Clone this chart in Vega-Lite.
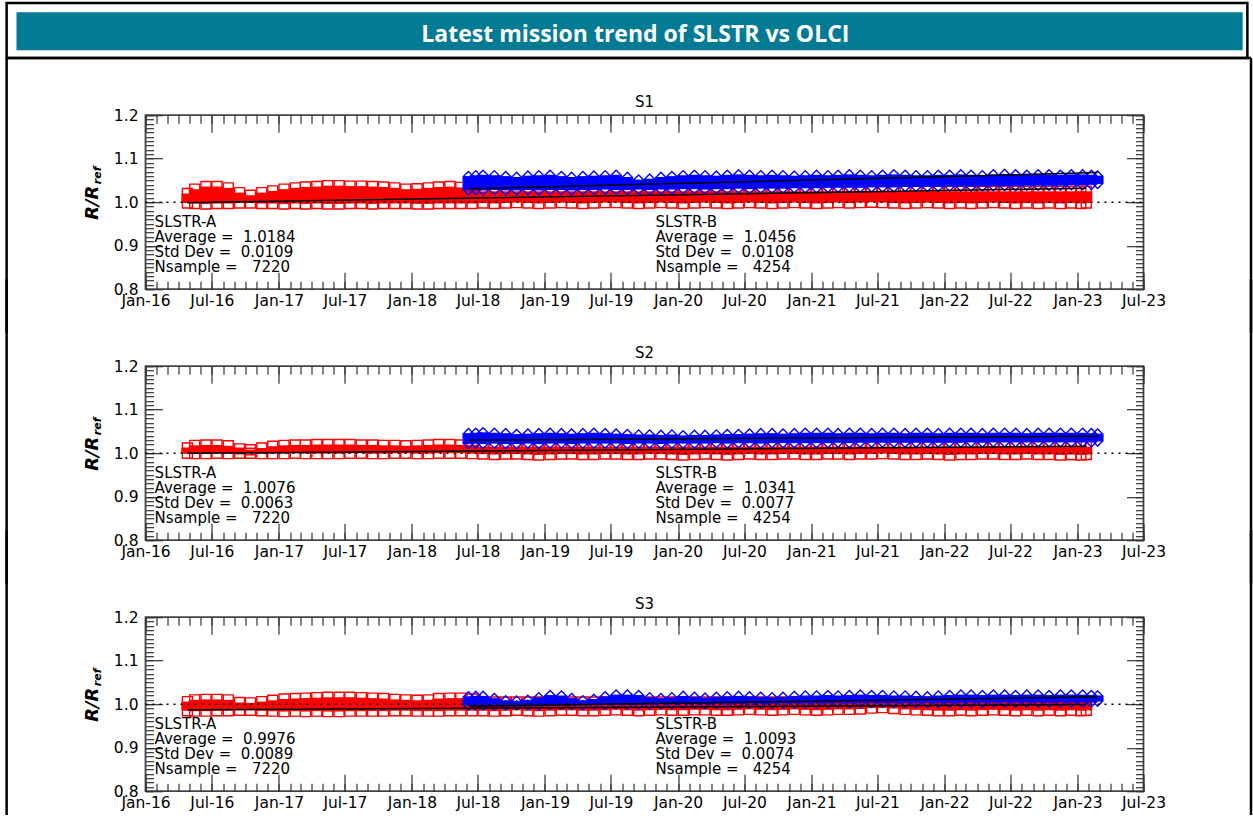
{
"$schema":"https://vega.github.io/schema/vega-lite/v6.json",
"padding":{"left":3.5,"top":0.2,"right":0,"bottom":0},
"background":"white",
"bounds":"flush",
"spacing":77,
"config":{
 "view":{"stroke":"#444","strokeWidth":1.8},
 "axis":{"grid":false,"domain":false,"tickColor":"#333","tickWidth":1.2,"labelFont":"DejaVu Sans","labelFontSize":15.5,"labelColor":"black","labelFlush":false,"labelOverlap":false},
 "font":"DejaVu Sans"
},
"datasets":{
"A":[
{"t":"2016-04-25","l1":0.998,"h1":1.020,"l2":1.000,"h2":1.012,"l3":0.985,"h3":1.006},
{"t":"2016-05-15","l1":0.997,"h1":1.030,"l2":0.999,"h2":1.018,"l3":0.984,"h3":1.010},
{"t":"2016-06-15","l1":0.996,"h1":1.036,"l2":0.999,"h2":1.019,"l3":0.984,"h3":1.011},
{"t":"2016-07-15","l1":0.997,"h1":1.036,"l2":1.000,"h2":1.019,"l3":0.985,"h3":1.011},
{"t":"2016-08-15","l1":0.997,"h1":1.033,"l2":0.999,"h2":1.017,"l3":0.985,"h3":1.010},
{"t":"2016-09-15","l1":0.998,"h1":1.022,"l2":1.000,"h2":1.010,"l3":0.986,"h3":1.004},
{"t":"2016-10-15","l1":0.998,"h1":1.016,"l2":1.000,"h2":1.008,"l3":0.986,"h3":1.003},
{"t":"2016-11-15","l1":0.997,"h1":1.022,"l2":0.999,"h2":1.012,"l3":0.985,"h3":1.006},
{"t":"2016-12-15","l1":0.997,"h1":1.026,"l2":0.999,"h2":1.016,"l3":0.984,"h3":1.009},
{"t":"2017-01-15","l1":0.996,"h1":1.030,"l2":0.999,"h2":1.018,"l3":0.983,"h3":1.012},
{"t":"2017-02-15","l1":0.997,"h1":1.033,"l2":1.000,"h2":1.019,"l3":0.984,"h3":1.013},
{"t":"2017-03-15","l1":0.996,"h1":1.035,"l2":0.999,"h2":1.019,"l3":0.983,"h3":1.014},
{"t":"2017-04-15","l1":0.997,"h1":1.036,"l2":0.999,"h2":1.020,"l3":0.984,"h3":1.015},
{"t":"2017-05-15","l1":0.996,"h1":1.038,"l2":0.999,"h2":1.020,"l3":0.983,"h3":1.016},
{"t":"2017-06-15","l1":0.996,"h1":1.038,"l2":0.999,"h2":1.020,"l3":0.983,"h3":1.016},
{"t":"2017-07-15","l1":0.997,"h1":1.037,"l2":1.000,"h2":1.020,"l3":0.984,"h3":1.016},
{"t":"2017-08-15","l1":0.997,"h1":1.037,"l2":1.000,"h2":1.019,"l3":0.984,"h3":1.015},
{"t":"2017-09-15","l1":0.996,"h1":1.036,"l2":0.999,"h2":1.019,"l3":0.984,"h3":1.014},
{"t":"2017-10-15","l1":0.997,"h1":1.035,"l2":0.999,"h2":1.018,"l3":0.984,"h3":1.013},
{"t":"2017-11-15","l1":0.997,"h1":1.033,"l2":1.000,"h2":1.018,"l3":0.985,"h3":1.011},
{"t":"2017-12-15","l1":0.997,"h1":1.030,"l2":1.000,"h2":1.017,"l3":0.985,"h3":1.010},
{"t":"2018-01-15","l1":0.996,"h1":1.031,"l2":0.999,"h2":1.018,"l3":0.984,"h3":1.009},
{"t":"2018-02-15","l1":0.996,"h1":1.033,"l2":0.999,"h2":1.019,"l3":0.984,"h3":1.010},
{"t":"2018-03-15","l1":0.997,"h1":1.035,"l2":1.000,"h2":1.020,"l3":0.984,"h3":1.013},
{"t":"2018-04-15","l1":0.997,"h1":1.036,"l2":1.000,"h2":1.020,"l3":0.985,"h3":1.014},
{"t":"2018-05-15","l1":0.997,"h1":1.034,"l2":1.000,"h2":1.019,"l3":0.985,"h3":1.014},
{"t":"2018-06-15","l1":0.997,"h1":1.032,"l2":0.999,"h2":1.019,"l3":0.985,"h3":1.012},
{"t":"2018-07-15","l1":0.998,"h1":1.025,"l2":0.998,"h2":1.015,"l3":0.985,"h3":1.005},
{"t":"2018-08-15","l1":0.997,"h1":1.025,"l2":0.997,"h2":1.015,"l3":0.984,"h3":1.005},
{"t":"2018-09-15","l1":0.998,"h1":1.025,"l2":0.998,"h2":1.015,"l3":0.985,"h3":1.005},
{"t":"2018-10-15","l1":0.999,"h1":1.025,"l2":0.998,"h2":1.015,"l3":0.986,"h3":1.005},
{"t":"2018-11-15","l1":0.998,"h1":1.025,"l2":0.997,"h2":1.015,"l3":0.985,"h3":1.005},
{"t":"2018-12-15","l1":0.997,"h1":1.025,"l2":0.996,"h2":1.015,"l3":0.984,"h3":1.005},
{"t":"2019-01-15","l1":0.998,"h1":1.025,"l2":0.997,"h2":1.015,"l3":0.985,"h3":1.005},
{"t":"2019-02-15","l1":0.999,"h1":1.025,"l2":0.998,"h2":1.015,"l3":0.986,"h3":1.005},
{"t":"2019-03-15","l1":0.998,"h1":1.025,"l2":0.998,"h2":1.015,"l3":0.986,"h3":1.005},
{"t":"2019-04-15","l1":0.997,"h1":1.025,"l2":0.997,"h2":1.015,"l3":0.985,"h3":1.005},
{"t":"2019-05-15","l1":0.998,"h1":1.025,"l2":0.997,"h2":1.015,"l3":0.985,"h3":1.005},
{"t":"2019-06-15","l1":0.999,"h1":1.025,"l2":0.998,"h2":1.015,"l3":0.986,"h3":1.005},
{"t":"2019-07-15","l1":0.999,"h1":1.025,"l2":0.998,"h2":1.015,"l3":0.987,"h3":1.005},
{"t":"2019-08-15","l1":0.998,"h1":1.025,"l2":0.997,"h2":1.015,"l3":0.986,"h3":1.005},
{"t":"2019-09-15","l1":0.997,"h1":1.025,"l2":0.997,"h2":1.015,"l3":0.985,"h3":1.005},
{"t":"2019-10-15","l1":0.998,"h1":1.025,"l2":0.998,"h2":1.015,"l3":0.986,"h3":1.005},
{"t":"2019-11-15","l1":0.999,"h1":1.025,"l2":0.998,"h2":1.015,"l3":0.987,"h3":1.005},
{"t":"2019-12-15","l1":0.998,"h1":1.025,"l2":0.997,"h2":1.015,"l3":0.986,"h3":1.005},
{"t":"2020-01-15","l1":0.997,"h1":1.025,"l2":0.996,"h2":1.015,"l3":0.986,"h3":1.005},
{"t":"2020-02-15","l1":0.998,"h1":1.025,"l2":0.997,"h2":1.015,"l3":0.987,"h3":1.005},
{"t":"2020-03-15","l1":0.999,"h1":1.025,"l2":0.998,"h2":1.015,"l3":0.987,"h3":1.005},
{"t":"2020-04-15","l1":0.998,"h1":1.025,"l2":0.997,"h2":1.015,"l3":0.986,"h3":1.005},
{"t":"2020-05-15","l1":0.997,"h1":1.025,"l2":0.996,"h2":1.015,"l3":0.986,"h3":1.005},
{"t":"2020-06-15","l1":0.998,"h1":1.025,"l2":0.997,"h2":1.015,"l3":0.987,"h3":1.005},
{"t":"2020-07-15","l1":0.999,"h1":1.025,"l2":0.998,"h2":1.015,"l3":0.988,"h3":1.005},
{"t":"2020-08-15","l1":0.998,"h1":1.025,"l2":0.997,"h2":1.015,"l3":0.987,"h3":1.005},
{"t":"2020-09-15","l1":0.997,"h1":1.025,"l2":0.997,"h2":1.015,"l3":0.986,"h3":1.005},
{"t":"2020-10-15","l1":0.998,"h1":1.025,"l2":0.998,"h2":1.015,"l3":0.987,"h3":1.005},
{"t":"2020-11-15","l1":0.999,"h1":1.025,"l2":0.998,"h2":1.015,"l3":0.988,"h3":1.005},
{"t":"2020-12-15","l1":0.998,"h1":1.025,"l2":0.997,"h2":1.015,"l3":0.987,"h3":1.005},
{"t":"2021-01-15","l1":0.997,"h1":1.025,"l2":0.997,"h2":1.015,"l3":0.986,"h3":1.005},
{"t":"2021-02-15","l1":0.998,"h1":1.025,"l2":0.998,"h2":1.015,"l3":0.987,"h3":1.005},
{"t":"2021-03-15","l1":0.999,"h1":1.025,"l2":0.998,"h2":1.015,"l3":0.988,"h3":1.005},
{"t":"2021-04-15","l1":0.998,"h1":1.025,"l2":0.997,"h2":1.015,"l3":0.988,"h3":1.005},
{"t":"2021-05-15","l1":0.999,"h1":1.025,"l2":0.998,"h2":1.015,"l3":0.989,"h3":1.005},
{"t":"2021-06-15","l1":1.000,"h1":1.025,"l2":0.998,"h2":1.015,"l3":0.991,"h3":1.005},
{"t":"2021-07-15","l1":0.999,"h1":1.025,"l2":0.999,"h2":1.015,"l3":0.992,"h3":1.005},
{"t":"2021-08-15","l1":0.998,"h1":1.025,"l2":0.998,"h2":1.015,"l3":0.990,"h3":1.005},
{"t":"2021-09-15","l1":0.997,"h1":1.025,"l2":0.997,"h2":1.015,"l3":0.988,"h3":1.005},
{"t":"2021-10-15","l1":0.998,"h1":1.025,"l2":0.997,"h2":1.015,"l3":0.987,"h3":1.005},
{"t":"2021-11-15","l1":0.999,"h1":1.025,"l2":0.998,"h2":1.015,"l3":0.986,"h3":1.005},
{"t":"2021-12-15","l1":0.998,"h1":1.025,"l2":0.997,"h2":1.015,"l3":0.985,"h3":1.005},
{"t":"2022-01-15","l1":0.997,"h1":1.025,"l2":0.996,"h2":1.015,"l3":0.985,"h3":1.005},
{"t":"2022-02-15","l1":0.998,"h1":1.025,"l2":0.997,"h2":1.015,"l3":0.986,"h3":1.005},
{"t":"2022-03-15","l1":0.997,"h1":1.025,"l2":0.997,"h2":1.015,"l3":0.985,"h3":1.005},
{"t":"2022-04-15","l1":0.998,"h1":1.025,"l2":0.998,"h2":1.015,"l3":0.986,"h3":1.005},
{"t":"2022-05-15","l1":0.999,"h1":1.025,"l2":0.998,"h2":1.015,"l3":0.987,"h3":1.005},
{"t":"2022-06-15","l1":0.998,"h1":1.025,"l2":0.997,"h2":1.015,"l3":0.986,"h3":1.005},
{"t":"2022-07-15","l1":0.997,"h1":1.025,"l2":0.997,"h2":1.015,"l3":0.985,"h3":1.005},
{"t":"2022-08-15","l1":0.998,"h1":1.025,"l2":0.998,"h2":1.015,"l3":0.986,"h3":1.005},
{"t":"2022-09-15","l1":0.997,"h1":1.025,"l2":0.997,"h2":1.015,"l3":0.985,"h3":1.005},
{"t":"2022-10-15","l1":0.998,"h1":1.025,"l2":0.997,"h2":1.015,"l3":0.986,"h3":1.005},
{"t":"2022-11-15","l1":0.997,"h1":1.025,"l2":0.996,"h2":1.015,"l3":0.985,"h3":1.005},
{"t":"2022-12-15","l1":0.998,"h1":1.025,"l2":0.997,"h2":1.015,"l3":0.986,"h3":1.005},
{"t":"2023-01-10","l1":0.997,"h1":1.025,"l2":0.996,"h2":1.015,"l3":0.985,"h3":1.005},
{"t":"2023-01-25","l1":0.998,"h1":1.025,"l2":0.997,"h2":1.015,"l3":0.986,"h3":1.005}
],
"B":[
{"t":"2018-06-05","l1":1.027,"h1":1.060,"l2":1.021,"h2":1.046,"l3":0.997,"h3":1.018},
{"t":"2018-06-25","l1":1.028,"h1":1.062,"l2":1.022,"h2":1.047,"l3":0.998,"h3":1.019},
{"t":"2018-07-15","l1":1.027,"h1":1.063,"l2":1.021,"h2":1.048,"l3":0.997,"h3":1.019},
{"t":"2018-08-15","l1":1.028,"h1":1.062,"l2":1.022,"h2":1.047,"l3":0.998,"h3":1.014},
{"t":"2018-09-15","l1":1.027,"h1":1.060,"l2":1.021,"h2":1.046,"l3":0.997,"h3":1.009},
{"t":"2018-10-15","l1":1.027,"h1":1.058,"l2":1.021,"h2":1.044,"l3":0.997,"h3":1.008},
{"t":"2018-11-15","l1":1.028,"h1":1.061,"l2":1.022,"h2":1.045,"l3":0.998,"h3":1.010},
{"t":"2018-12-15","l1":1.027,"h1":1.062,"l2":1.021,"h2":1.046,"l3":0.998,"h3":1.016},
{"t":"2019-01-15","l1":1.028,"h1":1.063,"l2":1.022,"h2":1.047,"l3":0.999,"h3":1.021},
{"t":"2019-02-15","l1":1.028,"h1":1.060,"l2":1.022,"h2":1.046,"l3":0.999,"h3":1.020},
{"t":"2019-03-15","l1":1.027,"h1":1.058,"l2":1.021,"h2":1.045,"l3":0.998,"h3":1.014},
{"t":"2019-04-15","l1":1.028,"h1":1.060,"l2":1.022,"h2":1.046,"l3":0.998,"h3":1.009},
{"t":"2019-05-15","l1":1.028,"h1":1.061,"l2":1.022,"h2":1.047,"l3":0.999,"h3":1.012},
{"t":"2019-06-15","l1":1.029,"h1":1.062,"l2":1.022,"h2":1.046,"l3":0.999,"h3":1.018},
{"t":"2019-07-15","l1":1.028,"h1":1.063,"l2":1.022,"h2":1.045,"l3":1.000,"h3":1.022},
{"t":"2019-08-15","l1":1.028,"h1":1.058,"l2":1.021,"h2":1.044,"l3":0.999,"h3":1.022},
{"t":"2019-09-15","l1":1.029,"h1":1.052,"l2":1.022,"h2":1.043,"l3":0.999,"h3":1.021},
{"t":"2019-10-15","l1":1.028,"h1":1.054,"l2":1.022,"h2":1.043,"l3":1.000,"h3":1.016},
{"t":"2019-11-15","l1":1.029,"h1":1.058,"l2":1.021,"h2":1.042,"l3":1.000,"h3":1.014},
{"t":"2019-12-15","l1":1.029,"h1":1.060,"l2":1.022,"h2":1.043,"l3":1.000,"h3":1.016},
{"t":"2020-01-15","l1":1.030,"h1":1.062,"l2":1.022,"h2":1.041,"l3":1.001,"h3":1.019},
{"t":"2020-02-15","l1":1.030,"h1":1.063,"l2":1.022,"h2":1.042,"l3":1.001,"h3":1.017},
{"t":"2020-03-15","l1":1.029,"h1":1.062,"l2":1.022,"h2":1.042,"l3":1.000,"h3":1.015},
{"t":"2020-04-15","l1":1.030,"h1":1.061,"l2":1.023,"h2":1.043,"l3":1.001,"h3":1.017},
{"t":"2020-05-15","l1":1.030,"h1":1.063,"l2":1.022,"h2":1.044,"l3":1.001,"h3":1.018},
{"t":"2020-06-15","l1":1.031,"h1":1.064,"l2":1.023,"h2":1.044,"l3":1.001,"h3":1.019},
{"t":"2020-07-15","l1":1.030,"h1":1.063,"l2":1.023,"h2":1.045,"l3":1.002,"h3":1.018},
{"t":"2020-08-15","l1":1.031,"h1":1.062,"l2":1.022,"h2":1.046,"l3":1.001,"h3":1.017},
{"t":"2020-09-15","l1":1.031,"h1":1.063,"l2":1.023,"h2":1.046,"l3":1.001,"h3":1.016},
{"t":"2020-10-15","l1":1.031,"h1":1.062,"l2":1.023,"h2":1.045,"l3":1.002,"h3":1.017},
{"t":"2020-11-15","l1":1.032,"h1":1.061,"l2":1.023,"h2":1.046,"l3":1.002,"h3":1.019},
{"t":"2020-12-15","l1":1.032,"h1":1.062,"l2":1.023,"h2":1.047,"l3":1.002,"h3":1.020},
{"t":"2021-01-15","l1":1.032,"h1":1.063,"l2":1.023,"h2":1.047,"l3":1.002,"h3":1.020},
{"t":"2021-02-15","l1":1.033,"h1":1.062,"l2":1.023,"h2":1.047,"l3":1.002,"h3":1.021},
{"t":"2021-03-15","l1":1.033,"h1":1.063,"l2":1.024,"h2":1.046,"l3":1.003,"h3":1.020},
{"t":"2021-04-15","l1":1.033,"h1":1.064,"l2":1.023,"h2":1.047,"l3":1.002,"h3":1.021},
{"t":"2021-05-15","l1":1.033,"h1":1.063,"l2":1.024,"h2":1.047,"l3":1.003,"h3":1.022},
{"t":"2021-06-15","l1":1.034,"h1":1.062,"l2":1.024,"h2":1.046,"l3":1.003,"h3":1.021},
{"t":"2021-07-15","l1":1.034,"h1":1.063,"l2":1.024,"h2":1.047,"l3":1.003,"h3":1.021},
{"t":"2021-08-15","l1":1.034,"h1":1.064,"l2":1.024,"h2":1.047,"l3":1.003,"h3":1.020},
{"t":"2021-09-15","l1":1.035,"h1":1.063,"l2":1.024,"h2":1.046,"l3":1.003,"h3":1.020},
{"t":"2021-10-15","l1":1.035,"h1":1.062,"l2":1.024,"h2":1.047,"l3":1.003,"h3":1.019},
{"t":"2021-11-15","l1":1.035,"h1":1.062,"l2":1.024,"h2":1.047,"l3":1.003,"h3":1.018},
{"t":"2021-12-15","l1":1.035,"h1":1.063,"l2":1.024,"h2":1.046,"l3":1.003,"h3":1.020},
{"t":"2022-01-15","l1":1.036,"h1":1.063,"l2":1.024,"h2":1.047,"l3":1.003,"h3":1.021},
{"t":"2022-02-15","l1":1.036,"h1":1.064,"l2":1.024,"h2":1.047,"l3":1.003,"h3":1.022},
{"t":"2022-03-15","l1":1.036,"h1":1.063,"l2":1.025,"h2":1.047,"l3":1.004,"h3":1.022},
{"t":"2022-04-15","l1":1.036,"h1":1.062,"l2":1.024,"h2":1.046,"l3":1.003,"h3":1.021},
{"t":"2022-05-15","l1":1.037,"h1":1.064,"l2":1.025,"h2":1.047,"l3":1.004,"h3":1.022},
{"t":"2022-06-15","l1":1.037,"h1":1.065,"l2":1.025,"h2":1.047,"l3":1.004,"h3":1.022},
{"t":"2022-07-15","l1":1.037,"h1":1.064,"l2":1.025,"h2":1.047,"l3":1.004,"h3":1.021},
{"t":"2022-08-15","l1":1.038,"h1":1.063,"l2":1.025,"h2":1.046,"l3":1.004,"h3":1.022},
{"t":"2022-09-15","l1":1.038,"h1":1.064,"l2":1.025,"h2":1.047,"l3":1.004,"h3":1.022},
{"t":"2022-10-15","l1":1.038,"h1":1.064,"l2":1.025,"h2":1.047,"l3":1.004,"h3":1.021},
{"t":"2022-11-15","l1":1.038,"h1":1.063,"l2":1.025,"h2":1.047,"l3":1.004,"h3":1.022},
{"t":"2022-12-15","l1":1.039,"h1":1.064,"l2":1.025,"h2":1.047,"l3":1.004,"h3":1.022},
{"t":"2023-01-15","l1":1.039,"h1":1.064,"l2":1.025,"h2":1.047,"l3":1.004,"h3":1.022},
{"t":"2023-02-08","l1":1.040,"h1":1.063,"l2":1.025,"h2":1.046,"l3":1.004,"h3":1.021},
{"t":"2023-02-25","l1":1.042,"h1":1.061,"l2":1.027,"h2":1.045,"l3":1.006,"h3":1.020}
],
"T":[
{"s":"A","t":"2016-04-25","v1":0.999,"v2":1.000,"v3":0.987},
{"s":"A","t":"2023-01-25","v1":1.032,"v2":1.016,"v3":0.999},
{"s":"B","t":"2018-06-05","v1":1.031,"v2":1.030,"v3":0.995},
{"s":"B","t":"2023-02-25","v1":1.068,"v2":1.039,"v3":1.017}
]
},
"vconcat":[
{
"width":998,"height":174,
"layer":[
{"data":{"values":[{}]},"mark":{"type":"rule","color":"black","strokeWidth":2.5},"encoding":{"x":{"datum":{"year":2014,"month":12,"date":16,"utc":true},"type":"temporal","axis":null},"y":{"datum":1.3315,"type":"quantitative","axis":null},"y2":{"datum":0.70}}},
{"data":{"values":[{}]},"mark":{"type":"rule","color":"black","strokeWidth":2.5},"encoding":{"x":{"datum":{"year":2024,"month":4,"date":21,"utc":true},"type":"temporal","axis":null},"y":{"datum":1.3315,"type":"quantitative","axis":null},"y2":{"datum":0.70}}},
{"data":{"values":[{}]},"mark":{"type":"rect","fill":"white","fillOpacity":0,"stroke":"black","strokeWidth":2.5},"encoding":{"x":{"datum":{"year":2014,"month":12,"date":16,"utc":true},"type":"temporal","axis":null},"x2":{"datum":{"year":2024,"month":4,"date":11,"utc":true}},"y":{"datum":1.4582,"type":"quantitative","axis":null},"y2":{"datum":1.3315}}},
{"data":{"values":[{}]},"mark":{"type":"rule","color":"black","strokeWidth":2.5},"encoding":{"x":{"datum":{"year":2014,"month":12,"date":16,"utc":true},"type":"temporal","axis":null},"x2":{"datum":{"year":2024,"month":4,"date":21,"utc":true}},"y":{"datum":1.3315,"type":"quantitative","axis":null}}},
{"data":{"values":[{}]},"mark":{"type":"rect","fill":"#017a93","strokeWidth":0},"encoding":{"x":{"datum":{"year":2015,"month":1,"date":12,"utc":true},"type":"temporal","axis":null},"x2":{"datum":{"year":2024,"month":3,"date":29,"utc":true}},"y":{"datum":1.4368,"type":"quantitative","axis":null},"y2":{"datum":1.3494}}},
{"data":{"values":[{}]},"mark":{"type":"text","text":"Latest mission trend of SLSTR vs OLCI","font":"Open Sans","fontWeight":"bold","fontSize":23,"color":"white","align":"center","baseline":"alphabetic"},"encoding":{"x":{"datum":{"year":2019,"month":9,"date":6,"utc":true},"type":"temporal","axis":null},"y":{"datum":1.3685,"type":"quantitative","axis":null}}},
{"data":{"values":[{}]},"mark":{"type":"text","text":"S1","font":"DejaVu Sans","fontSize":15,"align":"center","baseline":"alphabetic","color":"black"},"encoding":{"x":{"datum":{"year":2019,"month":10,"date":1,"utc":true},"type":"temporal","axis":null},"y":{"datum":1.2195,"type":"quantitative","axis":null}}},
{"data":{"name":"A"},"mark":{"type":"rule","color":"#ff0000","strokeWidth":12},"encoding":{"x":{"field":"t","type":"temporal","scale":{"type":"utc","domain":[{"year":2016,"month":1,"date":1,"utc":true},{"year":2023,"month":7,"date":1,"utc":true}],"nice":false},"axis":{"orient":"bottom","tickCount":{"interval":"month","step":6},"tickSize":-17,"labelPadding":21.5,"format":"%b-%y","title":null}},"y":{"field":"l1","type":"quantitative","scale":{"domain":[0.8,1.2],"nice":false,"zero":false},"axis":{"orient":"left","values":[0.8,0.9,1.0,1.1,1.2],"tickSize":-17,"labelPadding":24.5,"format":".1f","title":"R/R","titleX":-48,"titleY":87,"titleAngle":270,"titleBaseline":"alphabetic","titleAlign":"center","titleFont":"DejaVu Sans","titleFontSize":18,"titleFontWeight":"bold","titleFontStyle":"italic","titleColor":"black"}},"y2":{"field":"h1"}}},
{"data":{"name":"A"},"transform":[{"fold":["l1","h1"]}],"mark":{"type":"point","shape":"square","filled":false,"color":"#ff0000","strokeWidth":1.4,"size":100,"opacity":1},"encoding":{"x":{"field":"t","type":"temporal","axis":{"orient":"bottom","tickCount":{"interval":"month","step":1},"tickSize":-8,"labels":false,"title":null}},"y":{"field":"value","type":"quantitative","axis":{"orient":"left","tickCount":40,"tickSize":-8,"labels":false,"title":null}}}},
{"data":{"name":"B"},"mark":{"type":"rule","color":"#0000ff","strokeWidth":12},"encoding":{"x":{"field":"t","type":"temporal","axis":{"orient":"top","tickCount":{"interval":"month","step":6},"tickSize":-17,"labels":false,"title":null}},"y":{"field":"l1","type":"quantitative","axis":{"orient":"right","values":[0.8,0.9,1.0,1.1,1.2],"tickSize":-17,"labels":false,"title":null}},"y2":{"field":"h1"}}},
{"data":{"name":"B"},"transform":[{"fold":["l1","h1"]}],"mark":{"type":"point","shape":"diamond","filled":false,"color":"#0000ff","strokeWidth":1.4,"size":85,"opacity":1},"encoding":{"x":{"field":"t","type":"temporal","axis":{"orient":"top","tickCount":{"interval":"month","step":1},"tickSize":-8,"labels":false,"title":null}},"y":{"field":"value","type":"quantitative","axis":{"orient":"right","tickCount":40,"tickSize":-8,"labels":false,"title":null}}}},
{"data":{"name":"T"},"mark":{"type":"line","color":"black","strokeWidth":1.5},"encoding":{"x":{"field":"t","type":"temporal","axis":null},"y":{"field":"v1","type":"quantitative","axis":null},"detail":{"field":"s"}}},
{"data":{"values":[{}]},"mark":{"type":"rule","color":"black","strokeWidth":1.5,"strokeDash":[2,5]},"encoding":{"x":{"datum":{"year":2016,"month":1,"date":1,"utc":true},"type":"temporal","axis":null},"x2":{"datum":{"year":2023,"month":7,"date":1,"utc":true}},"y":{"datum":1.0,"type":"quantitative","axis":null}}},
{"data":{"values":[{}]},"mark":{"type":"text","text":["SLSTR-A","Average =\u00a0 1.0184","Std Dev =\u00a0 0.0109","Nsample =\u00a0\u00a0 7220"],"font":"DejaVu Sans","fontSize":15,"lineHeight":15,"align":"left","baseline":"top","color":"black"},"encoding":{"x":{"datum":{"year":2016,"month":1,"date":26,"utc":true},"type":"temporal","axis":null},"y":{"datum":0.97,"type":"quantitative","axis":null}}},
{"data":{"values":[{}]},"mark":{"type":"text","text":["SLSTR-B","Average =\u00a0 1.0456","Std Dev =\u00a0 0.0108","Nsample =\u00a0\u00a0 4254"],"font":"DejaVu Sans","fontSize":15,"lineHeight":15,"align":"left","baseline":"top","color":"black"},"encoding":{"x":{"datum":{"year":2019,"month":10,"date":31,"utc":true},"type":"temporal","axis":null},"y":{"datum":0.97,"type":"quantitative","axis":null}}},
{"data":{"values":[{}]},"mark":{"type":"text","text":"ref","font":"DejaVu Sans","fontSize":11,"fontWeight":"bold","fontStyle":"italic","angle":270,"align":"left","baseline":"alphabetic","color":"black"},"encoding":{"x":{"datum":{"year":2015,"month":8,"date":31,"utc":true},"type":"temporal","axis":null},"y":{"datum":1.0414,"type":"quantitative","axis":null}}}
],
"resolve":{"axis":{"x":"independent","y":"independent"}}
},
{
"width":998,"height":174,
"layer":[
{"data":{"values":[{}]},"mark":{"type":"rule","color":"black","strokeWidth":2.5},"encoding":{"x":{"datum":{"year":2014,"month":12,"date":16,"utc":true},"type":"temporal","axis":null},"y":{"datum":1.40,"type":"quantitative","axis":null},"y2":{"datum":0.70}}},
{"data":{"values":[{}]},"mark":{"type":"rule","color":"black","strokeWidth":2.5},"encoding":{"x":{"datum":{"year":2024,"month":4,"date":21,"utc":true},"type":"temporal","axis":null},"y":{"datum":1.40,"type":"quantitative","axis":null},"y2":{"datum":0.70}}},
{"data":{"values":[{}]},"mark":{"type":"text","text":"S2","font":"DejaVu Sans","fontSize":15,"align":"center","baseline":"alphabetic","color":"black"},"encoding":{"x":{"datum":{"year":2019,"month":10,"date":1,"utc":true},"type":"temporal","axis":null},"y":{"datum":1.2195,"type":"quantitative","axis":null}}},
{"data":{"name":"A"},"mark":{"type":"rule","color":"#ff0000","strokeWidth":12},"encoding":{"x":{"field":"t","type":"temporal","scale":{"type":"utc","domain":[{"year":2016,"month":1,"date":1,"utc":true},{"year":2023,"month":7,"date":1,"utc":true}],"nice":false},"axis":{"orient":"bottom","tickCount":{"interval":"month","step":6},"tickSize":-17,"labelPadding":21.5,"format":"%b-%y","title":null}},"y":{"field":"l2","type":"quantitative","scale":{"domain":[0.8,1.2],"nice":false,"zero":false},"axis":{"orient":"left","values":[0.8,0.9,1.0,1.1,1.2],"tickSize":-17,"labelPadding":24.5,"format":".1f","title":"R/R","titleX":-48,"titleY":87,"titleAngle":270,"titleBaseline":"alphabetic","titleAlign":"center","titleFont":"DejaVu Sans","titleFontSize":18,"titleFontWeight":"bold","titleFontStyle":"italic","titleColor":"black"}},"y2":{"field":"h2"}}},
{"data":{"name":"A"},"transform":[{"fold":["l2","h2"]}],"mark":{"type":"point","shape":"square","filled":false,"color":"#ff0000","strokeWidth":1.4,"size":100,"opacity":1},"encoding":{"x":{"field":"t","type":"temporal","axis":{"orient":"bottom","tickCount":{"interval":"month","step":1},"tickSize":-8,"labels":false,"title":null}},"y":{"field":"value","type":"quantitative","axis":{"orient":"left","tickCount":40,"tickSize":-8,"labels":false,"title":null}}}},
{"data":{"name":"B"},"mark":{"type":"rule","color":"#0000ff","strokeWidth":12},"encoding":{"x":{"field":"t","type":"temporal","axis":{"orient":"top","tickCount":{"interval":"month","step":6},"tickSize":-17,"labels":false,"title":null}},"y":{"field":"l2","type":"quantitative","axis":{"orient":"right","values":[0.8,0.9,1.0,1.1,1.2],"tickSize":-17,"labels":false,"title":null}},"y2":{"field":"h2"}}},
{"data":{"name":"B"},"transform":[{"fold":["l2","h2"]}],"mark":{"type":"point","shape":"diamond","filled":false,"color":"#0000ff","strokeWidth":1.4,"size":85,"opacity":1},"encoding":{"x":{"field":"t","type":"temporal","axis":{"orient":"top","tickCount":{"interval":"month","step":1},"tickSize":-8,"labels":false,"title":null}},"y":{"field":"value","type":"quantitative","axis":{"orient":"right","tickCount":40,"tickSize":-8,"labels":false,"title":null}}}},
{"data":{"name":"T"},"mark":{"type":"line","color":"black","strokeWidth":1.5},"encoding":{"x":{"field":"t","type":"temporal","axis":null},"y":{"field":"v2","type":"quantitative","axis":null},"detail":{"field":"s"}}},
{"data":{"values":[{}]},"mark":{"type":"rule","color":"black","strokeWidth":1.5,"strokeDash":[2,5]},"encoding":{"x":{"datum":{"year":2016,"month":1,"date":1,"utc":true},"type":"temporal","axis":null},"x2":{"datum":{"year":2023,"month":7,"date":1,"utc":true}},"y":{"datum":1.0,"type":"quantitative","axis":null}}},
{"data":{"values":[{}]},"mark":{"type":"text","text":["SLSTR-A","Average =\u00a0 1.0076","Std Dev =\u00a0 0.0063","Nsample =\u00a0\u00a0 7220"],"font":"DejaVu Sans","fontSize":15,"lineHeight":15,"align":"left","baseline":"top","color":"black"},"encoding":{"x":{"datum":{"year":2016,"month":1,"date":26,"utc":true},"type":"temporal","axis":null},"y":{"datum":0.97,"type":"quantitative","axis":null}}},
{"data":{"values":[{}]},"mark":{"type":"text","text":["SLSTR-B","Average =\u00a0 1.0341","Std Dev =\u00a0 0.0077","Nsample =\u00a0\u00a0 4254"],"font":"DejaVu Sans","fontSize":15,"lineHeight":15,"align":"left","baseline":"top","color":"black"},"encoding":{"x":{"datum":{"year":2019,"month":10,"date":31,"utc":true},"type":"temporal","axis":null},"y":{"datum":0.97,"type":"quantitative","axis":null}}},
{"data":{"values":[{}]},"mark":{"type":"text","text":"ref","font":"DejaVu Sans","fontSize":11,"fontWeight":"bold","fontStyle":"italic","angle":270,"align":"left","baseline":"alphabetic","color":"black"},"encoding":{"x":{"datum":{"year":2015,"month":8,"date":31,"utc":true},"type":"temporal","axis":null},"y":{"datum":1.0414,"type":"quantitative","axis":null}}}
],
"resolve":{"axis":{"x":"independent","y":"independent"}}
},
{
"width":998,"height":174,
"layer":[
{"data":{"values":[{}]},"mark":{"type":"rule","color":"black","strokeWidth":2.5},"encoding":{"x":{"datum":{"year":2014,"month":12,"date":16,"utc":true},"type":"temporal","axis":null},"y":{"datum":1.40,"type":"quantitative","axis":null},"y2":{"datum":0.745}}},
{"data":{"values":[{}]},"mark":{"type":"rule","color":"black","strokeWidth":2.5},"encoding":{"x":{"datum":{"year":2024,"month":4,"date":21,"utc":true},"type":"temporal","axis":null},"y":{"datum":1.40,"type":"quantitative","axis":null},"y2":{"datum":0.745}}},
{"data":{"values":[{}]},"mark":{"type":"text","text":"S3","font":"DejaVu Sans","fontSize":15,"align":"center","baseline":"alphabetic","color":"black"},"encoding":{"x":{"datum":{"year":2019,"month":10,"date":1,"utc":true},"type":"temporal","axis":null},"y":{"datum":1.2195,"type":"quantitative","axis":null}}},
{"data":{"name":"A"},"mark":{"type":"rule","color":"#ff0000","strokeWidth":12},"encoding":{"x":{"field":"t","type":"temporal","scale":{"type":"utc","domain":[{"year":2016,"month":1,"date":1,"utc":true},{"year":2023,"month":7,"date":1,"utc":true}],"nice":false},"axis":{"orient":"bottom","tickCount":{"interval":"month","step":6},"tickSize":-17,"labelPadding":21.5,"format":"%b-%y","title":null}},"y":{"field":"l3","type":"quantitative","scale":{"domain":[0.8,1.2],"nice":false,"zero":false},"axis":{"orient":"left","values":[0.8,0.9,1.0,1.1,1.2],"tickSize":-17,"labelPadding":24.5,"format":".1f","title":"R/R","titleX":-48,"titleY":87,"titleAngle":270,"titleBaseline":"alphabetic","titleAlign":"center","titleFont":"DejaVu Sans","titleFontSize":18,"titleFontWeight":"bold","titleFontStyle":"italic","titleColor":"black"}},"y2":{"field":"h3"}}},
{"data":{"name":"A"},"transform":[{"fold":["l3","h3"]}],"mark":{"type":"point","shape":"square","filled":false,"color":"#ff0000","strokeWidth":1.4,"size":100,"opacity":1},"encoding":{"x":{"field":"t","type":"temporal","axis":{"orient":"bottom","tickCount":{"interval":"month","step":1},"tickSize":-8,"labels":false,"title":null}},"y":{"field":"value","type":"quantitative","axis":{"orient":"left","tickCount":40,"tickSize":-8,"labels":false,"title":null}}}},
{"data":{"name":"B"},"mark":{"type":"rule","color":"#0000ff","strokeWidth":12},"encoding":{"x":{"field":"t","type":"temporal","axis":{"orient":"top","tickCount":{"interval":"month","step":6},"tickSize":-17,"labels":false,"title":null}},"y":{"field":"l3","type":"quantitative","axis":{"orient":"right","values":[0.8,0.9,1.0,1.1,1.2],"tickSize":-17,"labels":false,"title":null}},"y2":{"field":"h3"}}},
{"data":{"name":"B"},"transform":[{"fold":["l3","h3"]}],"mark":{"type":"point","shape":"diamond","filled":false,"color":"#0000ff","strokeWidth":1.4,"size":85,"opacity":1},"encoding":{"x":{"field":"t","type":"temporal","axis":{"orient":"top","tickCount":{"interval":"month","step":1},"tickSize":-8,"labels":false,"title":null}},"y":{"field":"value","type":"quantitative","axis":{"orient":"right","tickCount":40,"tickSize":-8,"labels":false,"title":null}}}},
{"data":{"name":"T"},"mark":{"type":"line","color":"black","strokeWidth":1.5},"encoding":{"x":{"field":"t","type":"temporal","axis":null},"y":{"field":"v3","type":"quantitative","axis":null},"detail":{"field":"s"}}},
{"data":{"values":[{}]},"mark":{"type":"rule","color":"black","strokeWidth":1.5,"strokeDash":[2,5]},"encoding":{"x":{"datum":{"year":2016,"month":1,"date":1,"utc":true},"type":"temporal","axis":null},"x2":{"datum":{"year":2023,"month":7,"date":1,"utc":true}},"y":{"datum":1.0,"type":"quantitative","axis":null}}},
{"data":{"values":[{}]},"mark":{"type":"text","text":["SLSTR-A","Average =\u00a0 0.9976","Std Dev =\u00a0 0.0089","Nsample =\u00a0\u00a0 7220"],"font":"DejaVu Sans","fontSize":15,"lineHeight":15,"align":"left","baseline":"top","color":"black"},"encoding":{"x":{"datum":{"year":2016,"month":1,"date":26,"utc":true},"type":"temporal","axis":null},"y":{"datum":0.97,"type":"quantitative","axis":null}}},
{"data":{"values":[{}]},"mark":{"type":"text","text":["SLSTR-B","Average =\u00a0 1.0093","Std Dev =\u00a0 0.0074","Nsample =\u00a0\u00a0 4254"],"font":"DejaVu Sans","fontSize":15,"lineHeight":15,"align":"left","baseline":"top","color":"black"},"encoding":{"x":{"datum":{"year":2019,"month":10,"date":31,"utc":true},"type":"temporal","axis":null},"y":{"datum":0.97,"type":"quantitative","axis":null}}},
{"data":{"values":[{}]},"mark":{"type":"text","text":"ref","font":"DejaVu Sans","fontSize":11,"fontWeight":"bold","fontStyle":"italic","angle":270,"align":"left","baseline":"alphabetic","color":"black"},"encoding":{"x":{"datum":{"year":2015,"month":8,"date":31,"utc":true},"type":"temporal","axis":null},"y":{"datum":1.0414,"type":"quantitative","axis":null}}}
],
"resolve":{"axis":{"x":"independent","y":"independent"}}
}
]
}
